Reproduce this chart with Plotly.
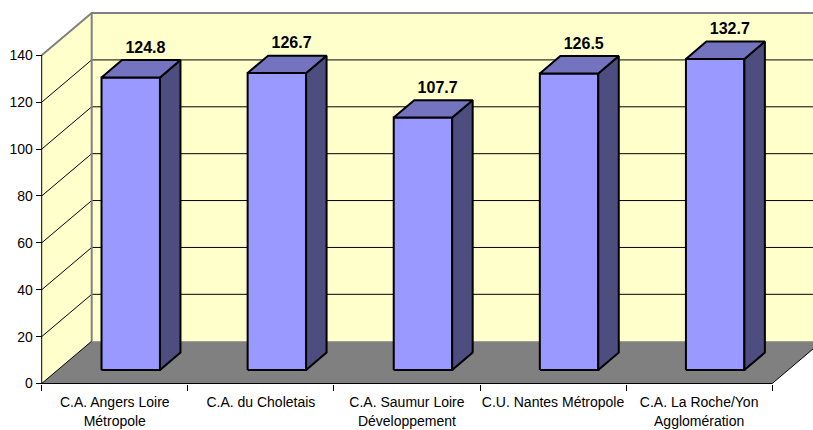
import plotly.graph_objects as go

# ---------------- data ----------------
categories = [
    "C.A. Angers Loire<br>Métropole",
    "C.A. du Choletais",
    "C.A. Saumur Loire<br>Développement",
    "C.U. Nantes Métropole",
    "C.A. La Roche/Yon<br>Agglomération",
]
values = [124.8, 126.7, 107.7, 126.5, 132.7]
y_ticks = [0, 20, 40, 60, 80, 100, 120, 140]

# ---------------- layout geometry (pixels) ----------------
W, H = 813, 430
ML, MR, MT, MB = 30, 0, 0, 30
PX0, PY0 = 41.7, 383.5          # front-left corner of floor
CAT_PX, VAL_PX = 146.1, 2.344   # pixels per category / per value unit
DEPTH_X_PX, DEPTH_Y_PX = 50.0, 42.3

n = len(categories)
x_range = [-0.5 - (PX0 - ML) / CAT_PX, -0.5 + (W - MR - PX0) / CAT_PX]
y_range = [-(H - MB - PY0) / VAL_PX, (PY0 - MT) / VAL_PX]
DX = DEPTH_X_PX / CAT_PX
DY = DEPTH_Y_PX / VAL_PX
ymax = y_ticks[-1]
x_lo, x_hi = -0.5, n - 0.5

F1, F2 = 0.32, 0.73   # bar depth fraction (front, back)
HW = 0.2              # half bar width (category units)

WALL = "#FFFFCC"
FLOOR = "#808080"
EDGE = "#808080"
FRONT = "#9999FF"
SIDE = "#4D4D80"
TOP = "#7373BF"
FONT = "Liberation Sans, Arial, sans-serif"

fig = go.Figure()


def poly(xs, ys, fill, lc="rgba(0,0,0,0)", lw=0):
    fig.add_trace(go.Scatter(
        x=list(xs) + [xs[0]], y=list(ys) + [ys[0]], mode="lines",
        fill="toself", fillcolor=fill, line=dict(color=lc, width=lw),
        hoverinfo="skip", showlegend=False))


def lines(xs, ys, color, width):
    fig.add_trace(go.Scatter(
        x=xs, y=ys, mode="lines", line=dict(color=color, width=width),
        hoverinfo="skip", showlegend=False))


# back wall
poly([x_lo + DX, x_hi + DX, x_hi + DX, x_lo + DX],
     [DY, DY, ymax + DY, ymax + DY], WALL)
# side wall
poly([x_lo, x_lo + DX, x_lo + DX, x_lo],
     [0, DY, ymax + DY, ymax], WALL)

# gridlines
gx, gy = [], []
for t in y_ticks[1:-1]:
    gx += [x_lo, x_lo + DX, x_hi + DX, None]
    gy += [t, t + DY, t + DY, None]
lines(gx, gy, "black", 1)

# wall borders (gray)
lines([x_lo, x_lo + DX, x_hi + DX, None, x_lo + DX, x_lo + DX],
      [ymax, ymax + DY, ymax + DY, None, ymax + DY, DY], EDGE, 2)

# floor
poly([x_lo, x_hi, x_hi + DX, x_lo + DX], [0, 0, DY, DY], FLOOR)
lines([x_lo + DX, x_lo, x_hi, x_hi + DX], [DY, 0, 0, DY], "black", 1)
# front-left vertical axis edge
lines([x_lo, x_lo], [0, ymax], "black", 1)

# bars
for i, v in enumerate(values):
    xl, xr = i - HW, i + HW
    # front face
    poly([xl + F1 * DX, xr + F1 * DX, xr + F1 * DX, xl + F1 * DX],
         [F1 * DY, F1 * DY, v + F1 * DY, v + F1 * DY], FRONT, "black", 2)
    # side face
    poly([xr + F1 * DX, xr + F2 * DX, xr + F2 * DX, xr + F1 * DX],
         [F1 * DY, F2 * DY, v + F2 * DY, v + F1 * DY], SIDE, "black", 2)
    # top face
    poly([xl + F1 * DX, xr + F1 * DX, xr + F2 * DX, xl + F2 * DX],
         [v + F1 * DY, v + F1 * DY, v + F2 * DY, v + F2 * DY], TOP, "black", 2)

# value labels
fig.add_trace(go.Scatter(
    x=[i + 0.21 for i in range(n)], y=[v + DY for v in values],
    mode="text", text=[f"{v:.1f}" for v in values],
    textposition="middle center",
    textfont=dict(family=FONT, size=16, color="black", weight="bold"),
    hoverinfo="skip", showlegend=False, cliponaxis=False))

x_pos = (H - MB - PY0) / (H - MB - MT)
y_pos = (PX0 - ML) / (W - ML - MR)

fig.update_layout(
    width=W, height=H,
    margin=dict(l=ML, r=MR, t=MT, b=MB, pad=0),
    paper_bgcolor="white", plot_bgcolor="white",
    xaxis=dict(
        range=x_range, tickmode="array", tickvals=list(range(n)),
        ticktext=categories, ticks="outside", ticklen=6,
        tickcolor="rgba(0,0,0,0)", showgrid=False, zeroline=False,
        showline=False, anchor="free", position=x_pos, automargin=False,
        tickfont=dict(family=FONT, size=14, color="black"),
        minor=dict(tickmode="array",
                   tickvals=[k - 0.5 for k in range(n + 1)],
                   ticks="outside", ticklen=6, tickcolor="black",
                   tickwidth=1, showgrid=False),
        fixedrange=True),
    yaxis=dict(
        range=y_range, tickmode="array", tickvals=y_ticks,
        ticks="outside", ticklen=6, tickcolor="black", tickwidth=1,
        showgrid=False, zeroline=False, showline=False,
        anchor="free", position=y_pos, automargin=False,
        tickfont=dict(family=FONT, size=14, color="black"),
        fixedrange=True),
)

fig.write_html(
    "out.html",
    config={"displayModeBar": False, "staticPlot": True},
    post_script="document.body.style.margin='0';document.body.style.overflow='hidden';",
)
